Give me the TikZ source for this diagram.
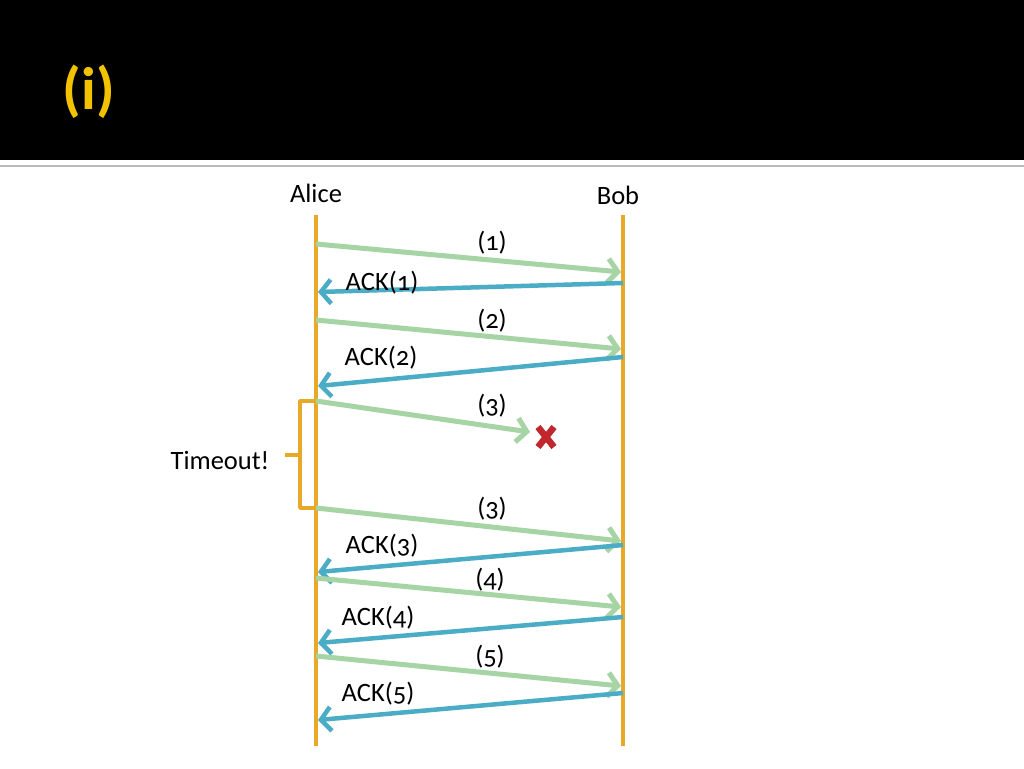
\documentclass[tikz,border=0pt]{standalone}
\usepackage{fontspec}
\setmainfont[Numbers=OldStyle]{Carlito}
\usetikzlibrary{arrows.meta}
\definecolor{lifeorange}{RGB}{232,168,40}
\definecolor{msggreen}{RGB}{166,212,164}
\definecolor{ackblue}{RGB}{75,172,198}
\definecolor{xred}{RGB}{192,40,45}
\definecolor{titleyellow}{RGB}{242,194,0}
\tikzset{
  lifeline/.style={draw=lifeorange,line width=4pt},
  msg/.style={draw=msggreen,line width=5pt,-{Straight Barb[length=10pt,width=24pt]}},
  ack/.style={draw=ackblue,line width=4.5pt,-{Straight Barb[length=10pt,width=24pt]}},
  lbl/.style={font=\fontsize{26.5}{30}\selectfont,inner sep=0pt},
}
\begin{document}
\begin{tikzpicture}[x=1pt,y=-1pt]
\useasboundingbox (0,0) rectangle (1024,768);
\fill[white] (0,0) rectangle (1024,768);
\fill[black] (0,0) rectangle (1024,160);
\draw[gray!55,line width=2pt] (0,165.5) -- (1024,165.5);
\node[font=\fontsize{60}{62}\selectfont\bfseries,text=titleyellow,inner sep=0pt] (title) at (89,92) {(i)};

% lifelines
\node[lbl] (alice) at (316,193) {Alice};
\node[lbl] (bob) at (618,195) {Bob};
\coordinate (atop) at (316,215);
\coordinate (abot) at (316,746);
\coordinate (btop) at (623,215);
\coordinate (bbot) at (623,746);
\draw[lifeline] (atop) -- (abot);
\draw[lifeline] (btop) -- (bbot);

% message points
\coordinate (s1) at (316,244); \coordinate (r1) at (621,272);
\coordinate (s2) at (623,283); \coordinate (r2) at (318,292);
\coordinate (s3) at (316,320); \coordinate (r3) at (621,349);
\coordinate (s4) at (623,357); \coordinate (r4) at (318,386);
\coordinate (s5) at (316,401); \coordinate (r5) at (530,432);
\coordinate (s6) at (316,508); \coordinate (r6) at (621,541);
\coordinate (s7) at (623,545); \coordinate (r7) at (318,572);
\coordinate (s8) at (316,578); \coordinate (r8) at (621,607);
\coordinate (s9) at (623,617); \coordinate (r9) at (318,643);
\coordinate (s10) at (316,656); \coordinate (r10) at (621,686);
\coordinate (s11) at (623,693); \coordinate (r11) at (318,720);

\draw[msg] (s1) -- (r1);
\draw[ack] (s2) -- (r2);
\draw[msg] (s3) -- (r3);
\draw[ack] (s4) -- (r4);
\draw[msg] (s5) -- (r5);
\draw[msg] (s6) -- (r6);
\draw[ack] (s7) -- (r7);
\draw[msg] (s8) -- (r8);
\draw[ack] (s9) -- (r9);
\draw[msg] (s10) -- (r10);
\draw[ack] (s11) -- (r11);

% labels
\node[lbl] (l1) at (492,243) {(1)};
\node[lbl] (l2) at (382,283) {ACK(1)};
\node[lbl] (l3) at (492,321) {(2)};
\node[lbl] (l4) at (381,358) {ACK(2)};
\node[lbl] (l5) at (492,406) {(3)};
\node[lbl] (l6) at (492,509) {(3)};
\node[lbl] (l7) at (382,546) {ACK(3)};
\node[lbl] (l8) at (490,580) {(4)};
\node[lbl] (l9) at (378,618) {ACK(4)};
\node[lbl] (l10) at (490,657) {(5)};
\node[lbl] (l11) at (378,694) {ACK(5)};

% lost packet cross
\coordinate (xc) at (546,437);
\draw[xred,line width=6.5pt] ([shift={(-8,-10)}]xc) -- ([shift={(8,10)}]xc);
\draw[xred,line width=6.5pt] ([shift={(8,-10)}]xc) -- ([shift={(-8,10)}]xc);

% timeout bracket
\coordinate (bt) at (316,401);
\coordinate (bb) at (316,508);
\coordinate (bm) at (285,455);
\draw[lifeorange,line width=3.5pt,line join=round] (bt) -- (300,401) -- (300,508) -- (bb);
\draw[lifeorange,line width=3.5pt] (300,455) -- (bm);
\node[lbl] (timeout) at (220,460) {Timeout!};
\end{tikzpicture}
\end{document}
